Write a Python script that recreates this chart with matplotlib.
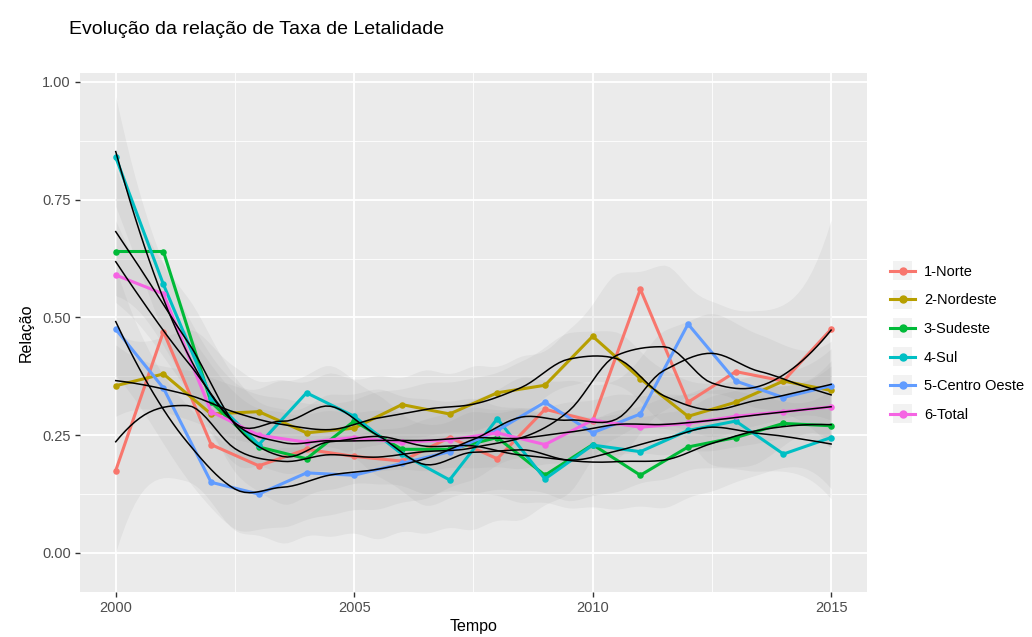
import numpy as np
import matplotlib
matplotlib.use("Agg")
import matplotlib.pyplot as plt
from matplotlib.lines import Line2D
from matplotlib.patches import Rectangle
from matplotlib.legend_handler import HandlerLine2D

plt.rcParams["font.family"] = ["Liberation Sans", "DejaVu Sans"]

# data
anos = np.arange(2000, 2016)
regioes = ["1-Norte", "2-Nordeste", "3-Sudeste", "4-Sul", "5-Centro Oeste", "6-Total"]
cores = ["#F8766D", "#B79F00", "#00BA38", "#00BFC4", "#619CFF", "#F564E3"]

norte = [0.175, 0.47, 0.23, 0.185, 0.22, 0.205, 0.195, 0.245, 0.20, 0.305,
         0.28, 0.56, 0.32, 0.385, 0.365, 0.475]
nordeste = [0.355, 0.38, 0.295, 0.30, 0.255, 0.265, 0.315, 0.295, 0.34, 0.356,
            0.46, 0.37, 0.29, 0.32, 0.365, 0.345]
sudeste = [0.64, 0.64, 0.32, 0.225, 0.20, 0.28, 0.22, 0.22, 0.245, 0.165,
           0.23, 0.165, 0.225, 0.245, 0.275, 0.27]
sul = [0.84, 0.57, 0.33, 0.23, 0.34, 0.29, 0.21, 0.155, 0.285, 0.157,
       0.229, 0.215, 0.26, 0.28, 0.21, 0.245]
centro_oeste = [0.475, 0.35, 0.15, 0.125, 0.17, 0.165, 0.19, 0.215, 0.26, 0.32,
                0.255, 0.295, 0.486, 0.365, 0.33, 0.355]
total = [0.59, 0.55, 0.30, 0.25, 0.235, 0.245, 0.235, 0.24, 0.255, 0.23,
         0.282, 0.267, 0.275, 0.29, 0.30, 0.31]
series = [norte, nordeste, sudeste, sul, centro_oeste, total]

SPAN = 0.4


def local_rows(x, v, qf):
    """Hat rows for value and slope of a local quadratic fit at v."""
    d = np.abs(x - v)
    ds = np.sort(d)
    q = int(np.floor(qf))
    h = ds[q - 1] + (qf - q) * (ds[min(q, len(ds) - 1)] - ds[q - 1])
    h *= 1.0001
    w = np.clip(1 - (d / h) ** 3, 0, None) ** 3
    X = np.column_stack([np.ones(len(x)), x - v, (x - v) ** 2])
    B = np.linalg.solve(X.T @ (w[:, None] * X), X.T * w)
    return B[0], B[1]


def hermite_rows(x, verts, xe, qf):
    """Interpolate hat rows between kd-tree style vertices (cubic Hermite)."""
    vals, slopes = zip(*[local_rows(x, v, qf) for v in verts])
    vals = np.array(vals)
    slopes = np.array(slopes)
    out = []
    for x0 in xe:
        i = min(np.searchsorted(verts, x0, side="right") - 1, len(verts) - 2)
        a, b = verts[i], verts[i + 1]
        hh = b - a
        t = (x0 - a) / hh
        h00 = 2 * t ** 3 - 3 * t ** 2 + 1
        h10 = t ** 3 - 2 * t ** 2 + t
        h01 = -2 * t ** 3 + 3 * t ** 2
        h11 = t ** 3 - t ** 2
        out.append(h00 * vals[i] + h10 * hh * slopes[i] + h01 * vals[i + 1] + h11 * hh * slopes[i + 1])
    return np.array(out)


def loess_fit(x, y, xs, span=SPAN):
    x = np.asarray(x, float)
    y = np.asarray(y, float)
    n = len(x)
    qf = span * n
    verts = np.concatenate([[x[0]], (x[:-1] + x[1:]) / 2, [x[-1]]])
    L = hermite_rows(x, verts, x, qf)
    res = y - L @ y
    IL = np.eye(n) - L
    M = IL.T @ IL
    d1 = np.trace(M)
    d2 = np.trace(M @ M)
    s = np.sqrt(np.sum(res ** 2) / d1)
    df = d1 ** 2 / d2
    z = 1.959964
    t = z + (z ** 3 + z) / (4 * df) + (5 * z ** 5 + 16 * z ** 3 + 3 * z) / (96 * df ** 2) \
        + (3 * z ** 7 + 19 * z ** 5 + 17 * z ** 3 - 15 * z) / (384 * df ** 3)
    Ls = hermite_rows(x, verts, xs, qf)
    fit = Ls @ y
    se = s * np.sqrt(np.sum(Ls ** 2, axis=1))
    return fit, fit - t * se, fit + t * se


class KeyHandler(HandlerLine2D):
    def create_artists(self, legend, orig_handle, xdescent, ydescent, width, height, fontsize, trans):
        arts = super().create_artists(legend, orig_handle, xdescent, ydescent, width, height, fontsize, trans)
        side = height * 1.9
        bg = Rectangle((-xdescent + width / 2 - side / 2, -ydescent + height / 2 - side / 2), side, side,
                       facecolor="#F2F2F2", edgecolor="none", transform=trans)
        return [bg] + list(arts)


fig = plt.figure(figsize=(10.32, 6.37), dpi=100)
ax = fig.add_axes([0.0775, 0.0706, 0.7625, 0.8148])
ax.set_facecolor("#EBEBEB")

xs = np.linspace(2000, 2015, 151)
handles = []
for nome, cor, vals in zip(regioes, cores, series):
    ax.plot(anos, vals, color=cor, lw=2.2, zorder=3)
    ax.scatter(anos, vals, color=cor, s=22, zorder=3, linewidths=0)
    fit, lo, hi = loess_fit(anos, vals, xs)
    ax.fill_between(xs, lo, hi, color="#999999", alpha=0.12, lw=0, zorder=2)
    ax.plot(xs, fit, color="black", lw=1.1, zorder=4)
    handles.append(Line2D([], [], color=cor, lw=2.2, marker="o", ms=5, label=nome))

ax.set_xlim(1999.25, 2015.75)
ax.set_ylim(-0.083, 1.019)
ax.set_xticks([2000, 2005, 2010, 2015])
ax.set_xticks([2002.5, 2007.5, 2012.5], minor=True)
ax.set_yticks([0, 0.25, 0.5, 0.75, 1.0])
ax.set_yticks([0.125, 0.375, 0.625, 0.875], minor=True)
ax.set_yticklabels(["0.00", "0.25", "0.50", "0.75", "1.00"])
ax.grid(which="major", color="white", lw=1.3, zorder=1)
ax.grid(which="minor", color="white", lw=0.6, zorder=1)
ax.set_axisbelow(True)
for sp in ax.spines.values():
    sp.set_visible(False)
ax.tick_params(which="major", length=3.5, width=1, color="#333333", labelsize=10.5,
               labelcolor="#4D4D4D", pad=3)
ax.tick_params(which="minor", length=0)

ax.set_xlabel("Tempo", fontsize=11.5, labelpad=3)
ax.set_ylabel("Relação", fontsize=11.5, labelpad=6)
fig.text(0.067, 0.953, "Evolução da relação de Taxa de Letalidade", fontsize=14, va="center")

fig.legend(handles=handles, loc="center left", bbox_to_anchor=(0.85, 0.461), frameon=False,
           fontsize=10.5, handlelength=1.7, handletextpad=0.6, labelspacing=1.0,
           handler_map={Line2D: KeyHandler()})

fig.savefig("out.png", dpi=100)
